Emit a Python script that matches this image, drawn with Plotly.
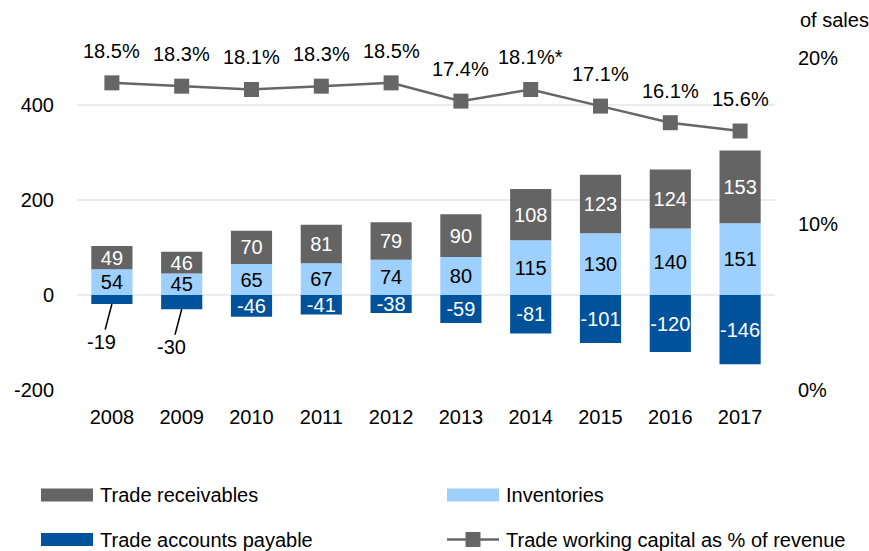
import plotly.graph_objects as go

# ---- data -------------------------------------------------------------
years = ["2008", "2009", "2010", "2011", "2012", "2013", "2014", "2015", "2016", "2017"]
trade_receivables = [49, 46, 70, 81, 79, 90, 108, 123, 124, 153]
inventories = [54, 45, 65, 67, 74, 80, 115, 130, 140, 151]
trade_payables = [-19, -30, -46, -41, -38, -59, -81, -101, -120, -146]
twc_pct = [18.5, 18.3, 18.1, 18.3, 18.5, 17.4, 18.1, 17.1, 16.1, 15.6]
twc_labels = ["18.5%", "18.3%", "18.1%", "18.3%", "18.5%", "17.4%", "18.1%*", "17.1%", "16.1%", "15.6%"]
left_ticks = [-200, 0, 200, 400]
right_ticks = [0, 10, 20]
# payables labelled outside the bar with a leader line
outside_payables = ["2008", "2009"]

# ---- style ------------------------------------------------------------
FONT = "Liberation Sans, Arial, sans-serif"
FS = 20
C_REC = "#646464"
C_INV = "#9dcfff"
C_PAY = "#00529b"
C_LINE = "#666666"
GRID = "#ececec"

W, H = 869, 551
M_L, M_R, M_T, M_B = 77, 94, 45, 161
PW, PH = W - M_L - M_R, H - M_T - M_B


def px(xp):
    return (xp - M_L) / PW


def py(yp):
    return (H - M_B - yp) / PH


def bar_text(values, skip=()):
    return ["" if yr in skip else str(v) for yr, v in zip(years, values)]


fig = go.Figure()

bar_common = dict(textposition="inside", insidetextanchor="middle",
                  constraintext="none", textangle=0)

fig.add_trace(go.Bar(
    x=years, y=inventories, name="Inventories",
    marker=dict(color=C_INV, line=dict(width=0)),
    text=bar_text(inventories),
    textfont=dict(color="black", size=FS, family=FONT), **bar_common,
))
fig.add_trace(go.Bar(
    x=years, y=trade_receivables, name="Trade receivables",
    marker=dict(color=C_REC, line=dict(width=0)),
    text=bar_text(trade_receivables),
    textfont=dict(color="white", size=FS, family=FONT), **bar_common,
))
fig.add_trace(go.Bar(
    x=years, y=trade_payables, name="Trade accounts payable",
    marker=dict(color=C_PAY, line=dict(width=0)),
    text=bar_text(trade_payables, outside_payables),
    textfont=dict(color="white", size=FS, family=FONT), **bar_common,
))
fig.add_trace(go.Scatter(
    x=years, y=[v / 100 for v in twc_pct], yaxis="y2",
    name="Trade working capital as % of revenue",
    mode="lines+markers",
    line=dict(color=C_LINE, width=2.5),
    marker=dict(symbol="square", size=15, color=C_LINE),
))

annotations = []
# percentage labels above the line markers (x given as category index)
for i, (v, lab) in enumerate(zip(twc_pct, twc_labels)):
    annotations.append(dict(
        x=i, y=v / 100, xref="x", yref="y2", text=lab, showarrow=False,
        yshift=32, xanchor="center", yanchor="middle",
        font=dict(size=FS, family=FONT, color="black"),
    ))
# small payables labelled below the bar
for i, (yr, v) in enumerate(zip(years, trade_payables)):
    if yr in outside_payables:
        annotations.append(dict(
            x=i, y=v, xref="x", yref="y", text=str(v),
            showarrow=True, arrowhead=0, arrowwidth=1.5, arrowcolor="black",
            ax=-10, ay=38, font=dict(size=FS, family=FONT, color="black"),
        ))
# right-axis unit
annotations.append(dict(
    x=px(798), y=py(20), xref="paper", yref="paper", text="of sales",
    showarrow=False, xanchor="left", yanchor="middle",
    font=dict(size=FS, family=FONT, color="black"),
))

# legend drawn as swatches + labels in two columns
legend_items = [
    ("Trade receivables", "bar", C_REC, 41, 495),
    ("Inventories", "bar", C_INV, 447, 495),
    ("Trade accounts payable", "bar", C_PAY, 41, 539.5),
    ("Trade working capital as % of revenue", "line", C_LINE, 447, 539.5),
]
shapes = []
SW_W, SW_H = 52, 13
for label, kind, color, x0, yc in legend_items:
    if kind == "bar":
        shapes.append(dict(type="rect", xref="paper", yref="paper",
                           x0=px(x0), x1=px(x0 + SW_W), y0=py(yc + SW_H / 2), y1=py(yc - SW_H / 2),
                           fillcolor=color, line=dict(width=0)))
    else:
        shapes.append(dict(type="line", xref="paper", yref="paper",
                           x0=px(x0), x1=px(x0 + SW_W), y0=py(yc), y1=py(yc),
                           line=dict(color=color, width=2.5)))
        shapes.append(dict(type="rect", xref="paper", yref="paper",
                           x0=px(x0 + SW_W / 2 - 7.5), x1=px(x0 + SW_W / 2 + 7.5),
                           y0=py(yc + 7.5), y1=py(yc - 7.5),
                           fillcolor=color, line=dict(width=0)))
    annotations.append(dict(
        x=px(x0 + SW_W + 5), y=py(yc), xref="paper", yref="paper", text=label,
        showarrow=False, xanchor="left", yanchor="middle",
        font=dict(size=FS, family=FONT, color="black"),
    ))

fig.update_layout(
    width=W, height=H,
    margin=dict(l=M_L, r=M_R, t=M_T, b=M_B, pad=0),
    paper_bgcolor="white", plot_bgcolor="white",
    barmode="relative", bargap=0.41,
    font=dict(family=FONT, size=FS, color="black"),
    showlegend=False,
    xaxis=dict(
        type="category", range=[-0.5, len(years) - 0.5], autorange=False,
        showgrid=False, showline=False, zeroline=False,
        ticks="", ticklabelstandoff=13, tickfont=dict(size=FS, family=FONT),
    ),
    yaxis=dict(
        range=[-200, 526.3], autorange=False,
        tickvals=left_ticks, ticktext=[str(t) for t in left_ticks],
        showgrid=True, gridcolor=GRID, gridwidth=2,
        zeroline=True, zerolinecolor=GRID, zerolinewidth=2,
        showline=False, ticks="", ticklabelstandoff=22,
        tickfont=dict(size=FS, family=FONT),
    ),
    yaxis2=dict(
        overlaying="y", side="right", range=[0, 0.2078], autorange=False,
        tickvals=[t / 100 for t in right_ticks], ticktext=[f"{t}%" for t in right_ticks],
        showgrid=False, zeroline=False, showline=False, ticks="",
        ticklabelstandoff=22, tickfont=dict(size=FS, family=FONT),
    ),
    annotations=annotations,
    shapes=shapes,
)

fig.write_html("out.html")
